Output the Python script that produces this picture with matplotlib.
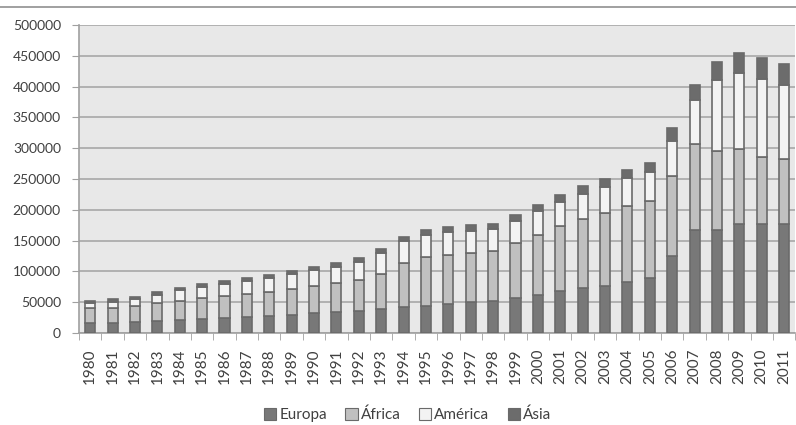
import numpy as np
import matplotlib
matplotlib.use('Agg')
import matplotlib.pyplot as plt
from matplotlib.patches import Patch

plt.rcParams['font.family'] = ['Lato', 'DejaVu Sans']

years = [str(y) for y in range(1980, 2012)]

europa = [15800, 16800, 17400, 19600, 21200, 22800, 24500, 25500, 27700, 29300,
          32100, 33700, 35900, 39700, 41800, 44600, 47300, 50000, 52200, 57100,
          61400, 67400, 72800, 76600, 83200, 88600, 125000, 167900, 167400, 176600,
          176600, 177200]
africa = [25000, 24500, 26100, 28800, 31000, 34300, 35300, 37500, 38600, 42400,
          44000, 46700, 50500, 56500, 71800, 78800, 79900, 79900, 81500, 88600,
          98400, 106500, 113100, 118500, 123300, 125000, 129300, 138600, 128800, 122300,
          108700, 104900]
america = [7600, 9800, 11400, 13600, 16800, 17900, 19500, 21800, 22800, 23400,
           26100, 26700, 29400, 33700, 35300, 36000, 36900, 36400, 34800, 35800,
           38000, 38600, 40200, 41900, 44600, 47800, 58200, 71200, 114100, 123400,
           127200, 120100]
asia = [3800, 3800, 4300, 4300, 4400, 4300, 4400, 4300, 5500, 6000,
        5400, 5900, 5900, 6500, 7600, 8500, 8700, 8700, 9200, 9300,
        9800, 10900, 12500, 13500, 14100, 14100, 19600, 24500, 30500, 32600,
        33700, 35300]

labels = ['Europa', 'África', 'América', 'Ásia']
colors = ['#787878', '#c0c0c0', '#f3f3f3', '#6c6c6c']
edge = '#6a6a6a'
txt = '#404040'

fig = plt.figure(figsize=(7.96, 4.25), dpi=100)
ax = fig.add_axes([0.0992, 0.2165, 0.9, 0.7245])
ax.set_facecolor('#e8e8e8')

x = np.arange(len(years))
bottom = np.zeros(len(years))
for vals, c in zip([europa, africa, america, asia], colors):
    ax.bar(x, vals, 0.45, bottom=bottom, color=c, edgecolor=edge, linewidth=1.2, zorder=3)
    bottom += np.array(vals)

ax.set_xlim(-0.5, len(years) - 0.5)
ax.set_ylim(0, 500000)
ax.set_yticks(range(0, 500001, 50000))
ax.yaxis.grid(True, color='#a8a8a8', linewidth=1.2, zorder=0)
ax.set_xticks(x)
ax.set_xticklabels(years, rotation=90, fontsize=11, color=txt)
ax.set_xticks(np.arange(-0.5, len(years)), minor=True)
ax.tick_params(axis='x', which='major', length=0, pad=11)
ax.tick_params(axis='x', which='minor', length=5, color='#a0a0a0', direction='out')
ax.tick_params(axis='y', length=5, color='#a0a0a0', labelsize=10, labelcolor=txt, pad=8)

for s in ['top', 'right']:
    ax.spines[s].set_visible(False)
for s in ['left', 'bottom']:
    ax.spines[s].set_color('#a0a0a0')
    ax.spines[s].set_linewidth(1.2)

handles = [Patch(facecolor=c, edgecolor=edge, linewidth=0.8) for c in colors]
fig.legend(handles, labels, loc='center', bbox_to_anchor=(0.512, 0.024), ncol=4,
           frameon=False, fontsize=11, handlelength=0.8, handleheight=0.8,
           handletextpad=0.2, columnspacing=1.2, labelcolor=txt, borderpad=0)

fig.add_artist(plt.Line2D([0, 1], [1 - 7 / 425, 1 - 7 / 425], color='#909090',
                          linewidth=1.2, transform=fig.transFigure))

fig.savefig('out.png', dpi=100)
